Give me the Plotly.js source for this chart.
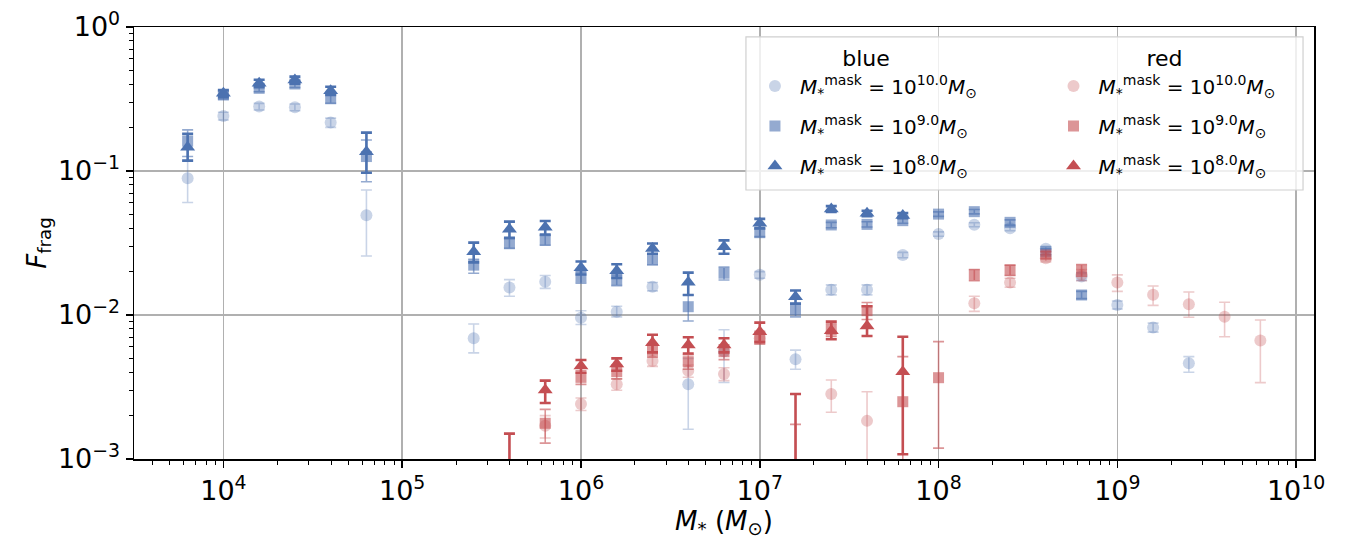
<!DOCTYPE html>
<html>
<head>
<meta charset="utf-8">
<script src="https://cdn.plot.ly/plotly-3.0.1.min.js"></script>
<style>html,body{margin:0;padding:0;background:#fff;}#chart{width:1352px;height:539px;}</style>
</head>
<body>
<div id="chart"></div>
<script>
// ---------- DATA ----------
// blue, mask 1e10
const blue10_x  = [6.31e3, 1.0e4, 1.585e4, 2.512e4, 3.981e4, 6.31e4, 2.512e5, 3.981e5, 6.31e5, 1.0e6, 1.585e6, 2.512e6, 3.981e6, 6.31e6, 1.0e7, 1.585e7, 2.512e7, 3.981e7, 6.31e7, 1.0e8, 1.585e8, 2.512e8, 3.981e8, 6.31e8, 1.0e9, 1.585e9, 2.512e9];
const blue10_y  = [0.089, 0.241, 0.280, 0.277, 0.217, 0.0492, 0.00689, 0.0155, 0.0170, 0.00958, 0.01055, 0.0157, 0.0033, 0.0056, 0.0190, 0.00492, 0.0150, 0.0150, 0.0261, 0.0365, 0.0424, 0.0400, 0.0288, 0.0185, 0.01173, 0.0082, 0.00462];
const blue10_hi = [0.118, 0.256, 0.295, 0.292, 0.233, 0.0738, 0.00866, 0.0176, 0.0188, 0.0107, 0.0115, 0.0168, 0.0050, 0.0079, 0.0200, 0.0057, 0.0162, 0.0162, 0.0272, 0.0378, 0.0437, 0.0415, 0.0300, 0.0196, 0.0125, 0.0088, 0.00514];
const blue10_lo = [0.0604, 0.226, 0.265, 0.262, 0.201, 0.0257, 0.00546, 0.0135, 0.0153, 0.0086, 0.0097, 0.0147, 0.00161, 0.0034, 0.0180, 0.0042, 0.0138, 0.0138, 0.0250, 0.0352, 0.0410, 0.0385, 0.0276, 0.0174, 0.0110, 0.0076, 0.00400];

// blue, mask 1e9
const blue9_x  = [6.31e3, 1.0e4, 1.585e4, 2.512e4, 3.981e4, 6.31e4, 2.512e5, 3.981e5, 6.31e5, 1.0e6, 1.585e6, 2.512e6, 3.981e6, 6.31e6, 1.0e7, 1.585e7, 2.512e7, 3.981e7, 6.31e7, 1.0e8, 1.585e8, 2.512e8, 3.981e8, 6.31e8];
const blue9_y  = [0.161, 0.337, 0.375, 0.402, 0.320, 0.126, 0.0222, 0.0315, 0.0332, 0.0183, 0.0175, 0.0244, 0.01142, 0.0195, 0.0373, 0.01083, 0.0422, 0.0426, 0.0452, 0.0502, 0.0522, 0.0440, 0.0275, 0.01377];
const blue9_hi = [0.193, 0.357, 0.395, 0.424, 0.345, 0.164, 0.0244, 0.0340, 0.0357, 0.0200, 0.0190, 0.0265, 0.01377, 0.0215, 0.0395, 0.0120, 0.0440, 0.0444, 0.0470, 0.0520, 0.0540, 0.0458, 0.0288, 0.0146];
const blue9_lo = [0.126, 0.317, 0.355, 0.380, 0.295, 0.0843, 0.0195, 0.0290, 0.0305, 0.0166, 0.0160, 0.0223, 0.00908, 0.0175, 0.0350, 0.0097, 0.0404, 0.0408, 0.0434, 0.0484, 0.0504, 0.0422, 0.0262, 0.0130];

// blue, mask 1e8
const blue8_x  = [6.31e3, 1.0e4, 1.585e4, 2.512e4, 3.981e4, 6.31e4, 2.512e5, 3.981e5, 6.31e5, 1.0e6, 1.585e6, 2.512e6, 3.981e6, 6.31e6, 1.0e7, 1.585e7, 2.512e7, 3.981e7, 6.31e7];
const blue8_y  = [0.146, 0.346, 0.406, 0.428, 0.361, 0.136, 0.0275, 0.0394, 0.0406, 0.0213, 0.0203, 0.0290, 0.01687, 0.0298, 0.0433, 0.0134, 0.0545, 0.0508, 0.0490];
const blue8_hi = [0.181, 0.365, 0.430, 0.452, 0.385, 0.1846, 0.0318, 0.0445, 0.0450, 0.0235, 0.0225, 0.0314, 0.0197, 0.0330, 0.0465, 0.0148, 0.0570, 0.0530, 0.0510];
const blue8_lo = [0.118, 0.327, 0.382, 0.404, 0.337, 0.0973, 0.0232, 0.0343, 0.0362, 0.0191, 0.0181, 0.0266, 0.01377, 0.0266, 0.0401, 0.0120, 0.0520, 0.0486, 0.0470];

// red, mask 1e10
const red10_x  = [6.31e5, 1.0e6, 1.585e6, 2.512e6, 3.981e6, 6.31e6, 1.0e7, 2.512e7, 3.981e7, 1.585e8, 2.512e8, 3.981e8, 6.31e8, 1.0e9, 1.585e9, 2.512e9, 3.981e9, 6.31e9];
const red10_y  = [0.0017, 0.00241, 0.00330, 0.00479, 0.0041, 0.00389, 0.0069, 0.00283, 0.00184, 0.01205, 0.0168, 0.0248, 0.0190, 0.0168, 0.01384, 0.01186, 0.00973, 0.00664];
const red10_hi = [0.0020, 0.00265, 0.00360, 0.0052, 0.0045, 0.0043, 0.0075, 0.00354, 0.00293, 0.0135, 0.0180, 0.0262, 0.0207, 0.0190, 0.0159, 0.01445, 0.01225, 0.00923];
const red10_lo = [0.0014, 0.00217, 0.00300, 0.0044, 0.0037, 0.0035, 0.0063, 0.00211, 0.00075, 0.0106, 0.0156, 0.0234, 0.0173, 0.0146, 0.01167, 0.00964, 0.00707, 0.00339];

// red, mask 1e9
const red9_x  = [6.31e5, 1.0e6, 1.585e6, 2.512e6, 3.981e6, 6.31e6, 1.0e7, 1.585e7, 2.512e7, 3.981e7, 6.31e7, 1.0e8, 1.585e8, 2.512e8, 3.981e8, 6.31e8];
const red9_y  = [0.00177, 0.00369, 0.00404, 0.00571, 0.00474, 0.00556, 0.0070, 0.0006, 0.0079, 0.01072, 0.0025, 0.00367, 0.0190, 0.0205, 0.0261, 0.0205];
const red9_hi = [0.00221, 0.0041, 0.0045, 0.0063, 0.0053, 0.0062, 0.0077, 0.00174, 0.0087, 0.0122, 0.00514, 0.00653, 0.0207, 0.0222, 0.0275, 0.0224];
const red9_lo = [0.00129, 0.0033, 0.0036, 0.0051, 0.0042, 0.0049, 0.0063, 0, 0.0071, 0.0093, 0, 0.00119, 0.0173, 0.0188, 0.0247, 0.0186];

// red, mask 1e8
const red8_x  = [3.981e5, 6.31e5, 1.0e6, 1.585e6, 2.512e6, 3.981e6, 6.31e6, 1.0e7, 1.585e7, 2.512e7, 3.981e7, 6.31e7];
const red8_y  = [0.0005, 0.00301, 0.00442, 0.00457, 0.00642, 0.00619, 0.00619, 0.00766, 0.0008, 0.00778, 0.00839, 0.00404];
const red8_hi = [0.00150, 0.00350, 0.00487, 0.0050, 0.0073, 0.0070, 0.00689, 0.00885, 0.00283, 0.00899, 0.0115, 0.00707];
const red8_lo = [0, 0.00245, 0.00397, 0.0041, 0.0055, 0.0054, 0.0055, 0.0065, 0, 0.00678, 0.00715, 0.00108];

// labels
const legendLabels = {
  m10: "<i>M</i><sub>*</sub><sup>mask</sup> = 10<sup>10.0</sup><i>M</i><sub>⊙</sub>",
  m9:  "<i>M</i><sub>*</sub><sup>mask</sup> = 10<sup>9.0</sup><i>M</i><sub>⊙</sub>",
  m8:  "<i>M</i><sub>*</sub><sup>mask</sup> = 10<sup>8.0</sup><i>M</i><sub>⊙</sub>"
};
const xTickVals = [1e4, 1e5, 1e6, 1e7, 1e8, 1e9, 1e10];
const xTickText = ["10<sup>4</sup>", "10<sup>5</sup>", "10<sup>6</sup>", "10<sup>7</sup>", "10<sup>8</sup>", "10<sup>9</sup>", "10<sup>10</sup>"];
const yTickVals = [1e-3, 1e-2, 1e-1, 1];
const yTickText = ["10<sup>−3</sup>", "10<sup>−2</sup>", "10<sup>−1</sup>", "10<sup>0</sup>"];

// ---------- STYLE ----------
const BLUE = [76, 114, 176];
const RED  = [196, 78, 82];
function rgba(c, a) { return 'rgba(' + c[0] + ',' + c[1] + ',' + c[2] + ',' + a + ')'; }

function makeTrace(x, y, hi, lo, col, alpha, symbol, size, thick, name, legend, group) {
  return {
    type: 'scatter', mode: 'markers', x: x, y: y, name: name, legend: legend, legendgroup: group,
    marker: { color: rgba(col, alpha), symbol: symbol, size: size, line: { width: 0 } },
    error_y: {
      type: 'data', symmetric: false,
      array: y.map((v, i) => hi[i] - v),
      arrayminus: y.map((v, i) => v - lo[i]),
      color: rgba(col, alpha), thickness: thick, width: 5.5
    },
    cliponaxis: true,
    showlegend: true
  };
}

const traces = [
  makeTrace(blue10_x, blue10_y, blue10_hi, blue10_lo, BLUE, 0.3, 'circle', 12, 1.6, legendLabels.m10, 'legend', 'b10'),
  makeTrace(blue9_x, blue9_y, blue9_hi, blue9_lo, BLUE, 0.6, 'square', 11, 1.6, legendLabels.m9, 'legend', 'b9'),
  makeTrace(blue8_x, blue8_y, blue8_hi, blue8_lo, BLUE, 1.0, 'triangle-up', 13, 2.6, legendLabels.m8, 'legend', 'b8'),
  makeTrace(red10_x, red10_y, red10_hi, red10_lo, RED, 0.3, 'circle', 12, 1.6, legendLabels.m10, 'legend2', 'r10'),
  makeTrace(red9_x, red9_y, red9_hi, red9_lo, RED, 0.6, 'square', 11, 1.6, legendLabels.m9, 'legend2', 'r9'),
  makeTrace(red8_x, red8_y, red8_hi, red8_lo, RED, 1.0, 'triangle-up', 13, 2.6, legendLabels.m8, 'legend2', 'r8')
];

const FONT = 'DejaVu Sans, sans-serif';
const axisCommon = {
  type: 'log', showline: true, linecolor: 'black', linewidth: 1.5, mirror: true,
  ticks: 'outside', ticklen: 7, tickwidth: 1.5, tickcolor: 'black',
  showgrid: true, gridcolor: '#b0b0b0', gridwidth: 1.5, zeroline: false,
  tickfont: { family: FONT, size: 27, color: 'black' },
  minor: { ticks: 'outside', ticklen: 4, tickwidth: 1, tickcolor: 'black', showgrid: false, dtick: 'D1' },
  tickmode: 'array'
};

const legendCommon = {
  xref: 'paper', yref: 'paper', xanchor: 'left', yanchor: 'top',
  bgcolor: 'rgba(0,0,0,0)', borderwidth: 0,
  font: { family: FONT, size: 20, color: 'black' },
  itemwidth: 40, tracegroupgap: 11
};

const layout = {
  width: 1352, height: 539,
  margin: { l: 134, r: 38, t: 27, b: 80, pad: 0 },
  paper_bgcolor: 'white', plot_bgcolor: 'white',
  font: { family: FONT, color: 'black' },
  xaxis: Object.assign({}, axisCommon, {
    range: [3.5, 10.1], tickvals: xTickVals, ticktext: xTickText,
    title: { text: '<i>M</i><sub>*</sub> (<i>M</i><sub>⊙</sub>)', font: { family: FONT, size: 26 }, standoff: 6 }
  }),
  yaxis: Object.assign({}, axisCommon, {
    range: [-3, 0], tickvals: yTickVals, ticktext: yTickText,
    title: { text: '<i>F</i><sub>frag</sub>', font: { family: FONT, size: 26 }, standoff: 4 }
  }),
  legend: Object.assign({}, legendCommon, {
    x: 0.522, y: 0.975,
    title: { text: 'blue', side: 'top center', font: { family: FONT, size: 22 } }
  }),
  legend2: Object.assign({}, legendCommon, {
    x: 0.775, y: 0.975,
    title: { text: 'red', side: 'top center', font: { family: FONT, size: 22 } }
  }),
  shapes: [{
    type: 'rect', xref: 'paper', yref: 'paper', layer: 'above',
    x0: 0.5186, x1: 0.9907, y0: 0.6227, y1: 0.977,
    line: { color: '#d0d0d0', width: 1.2 }, fillcolor: 'rgba(255,255,255,0.8)'
  }],
  showlegend: true
};

Plotly.newPlot('chart', traces, layout, { displayModeBar: false, staticPlot: true });
</script>
</body>
</html>
